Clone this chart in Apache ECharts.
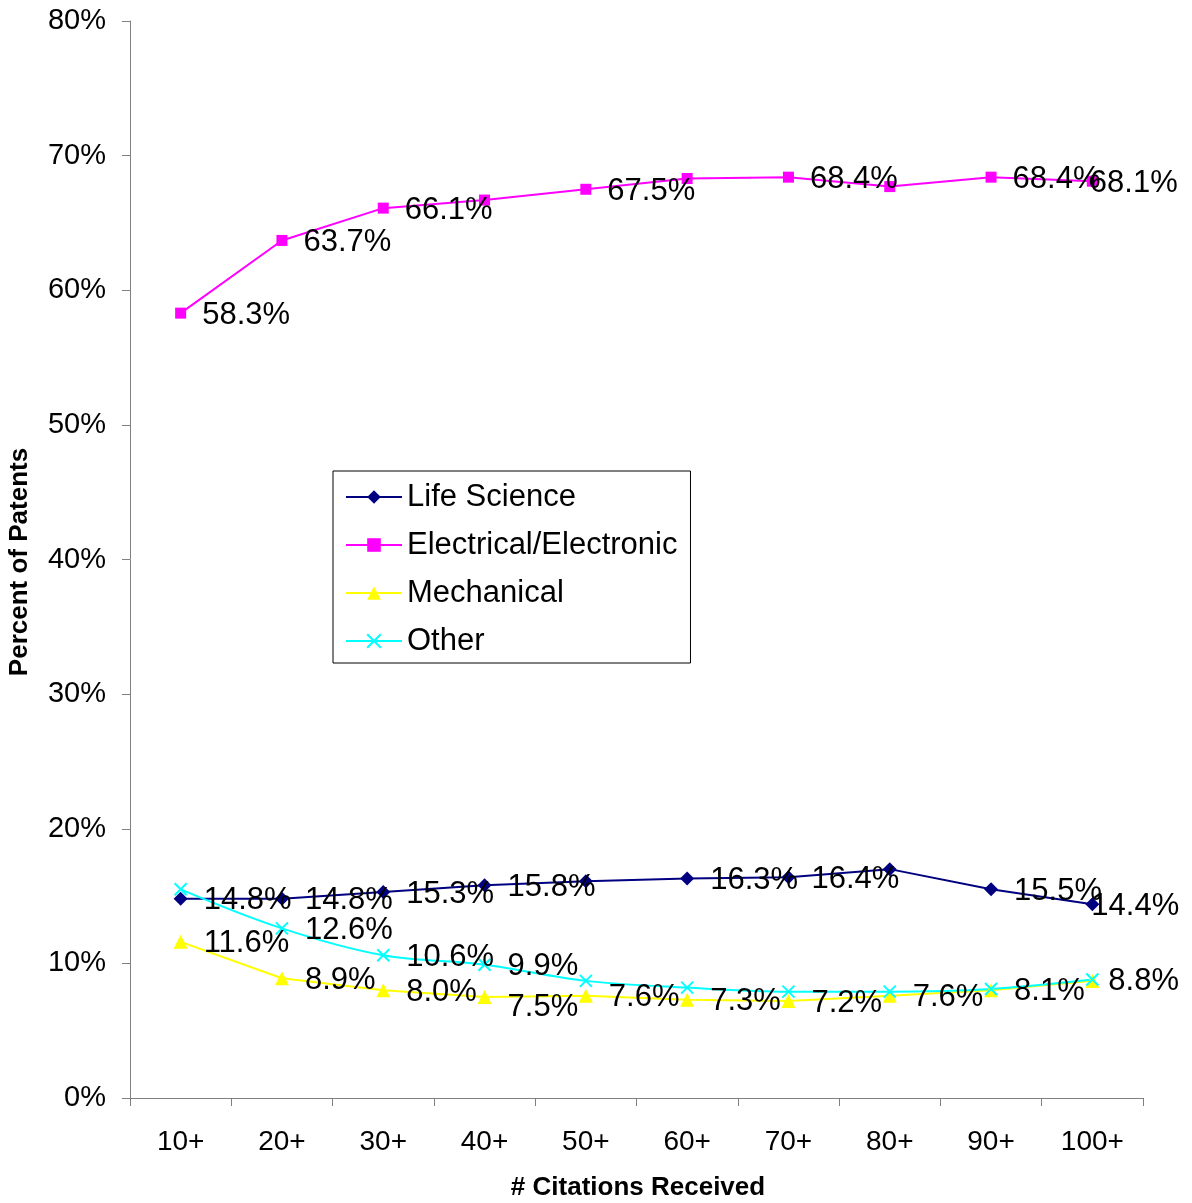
<!DOCTYPE html>
<html>
<head>
<meta charset="utf-8">
<title>Percent of Patents by Citations Received</title>
<script src="https://cdn.jsdelivr.net/npm/echarts@6/dist/echarts.min.js"></script>
<style>
  html, body { margin: 0; padding: 0; background: #ffffff; }
  #chart { width: 1192px; height: 1203px; }
</style>
</head>
<body>
<div id="chart"></div>
<script>
// Citation thresholds on the x axis
const categories = ['10+', '20+', '30+', '40+', '50+', '60+', '70+', '80+', '90+', '100+'];

// Share of patents (%) per technology field
const lifeScience = [14.8, 14.8, 15.3, 15.8, 16.1, 16.3, 16.4, 17.0, 15.5, 14.4];
const electrical  = [58.3, 63.7, 66.1, 66.7, 67.5, 68.3, 68.4, 67.7, 68.4, 68.1];
const mechanical  = [11.6, 8.9, 8.0, 7.5, 7.6, 7.3, 7.2, 7.6, 8.0, 8.7];
const other       = [15.5, 12.6, 10.6, 9.9, 8.7, 8.2, 7.9, 7.9, 8.1, 8.8];

// Which points carry a value label
const lifeScienceLabeled = [1, 1, 1, 1, 0, 1, 1, 0, 1, 1];
const electricalLabeled  = [1, 1, 1, 0, 1, 0, 1, 0, 1, 1];
const mechanicalLabeled  = [1, 1, 1, 1, 1, 1, 1, 1, 0, 0];
const otherLabeled       = [0, 1, 1, 1, 0, 0, 0, 0, 1, 1];

// Y axis range and step (percent)
const yMin = 0, yMax = 80, yStep = 10;

const FONT = "'Liberation Sans', Arial, sans-serif";

// Label nudges (px) so edge labels stay inside the canvas / clear of lines
const labelNudge = {
  'Life Science':          { 9: [-24, 2] },
  'Electrical/Electronic': { 9: [-24, 2] },
  'Mechanical':            { 3: [0, 10] },
  'Other':                 { 9: [-7, 2] }
};

function withLabels(name, values, flags) {
  const nudges = labelNudge[name] || {};
  return values.map((v, i) => {
    const lab = { show: !!flags[i] };
    if (nudges[i]) lab.offset = nudges[i];
    return { value: v, label: lab };
  });
}

const labelStyle = {
  show: true,
  position: 'right',
  distance: 16,
  offset: [0, 2],
  color: '#000000',
  fontSize: 31,
  fontFamily: FONT,
  formatter: p => p.value.toFixed(1) + '%'
};

const crossPath = 'path://M0,0 L10,10 M10,0 L0,10';

const chart = echarts.init(document.getElementById('chart'), null, { renderer: 'canvas' });

chart.setOption({
  animation: false,
  backgroundColor: '#ffffff',
  textStyle: { fontFamily: FONT },
  grid: { left: 130, right: 49, top: 21, bottom: 105, containLabel: false },
  legend: {
    orient: 'vertical',
    left: 333,
    top: 471,
    padding: [9, 13, 5, 12],
    itemGap: 14,
    itemWidth: 56,
    itemHeight: 17,
    backgroundColor: '#ffffff',
    borderColor: '#000000',
    borderWidth: 1,
    borderRadius: 0,
    textStyle: { fontSize: 31, color: '#000000', fontFamily: FONT, lineHeight: 34 },
    data: ['Life Science', 'Electrical/Electronic', 'Mechanical', 'Other']
  },
  xAxis: {
    type: 'category',
    data: categories,
    boundaryGap: true,
    axisLine: { lineStyle: { color: '#808080', width: 1 } },
    axisTick: { show: true, alignWithLabel: false, length: 8, lineStyle: { color: '#808080' } },
    axisLabel: { color: '#000000', fontSize: 28, fontFamily: FONT, margin: 30 },
    splitLine: { show: false }
  },
  yAxis: {
    type: 'value',
    min: yMin,
    max: yMax,
    interval: yStep,
    axisLine: { show: true, lineStyle: { color: '#808080', width: 1 } },
    axisTick: { show: true, length: 8, lineStyle: { color: '#808080' } },
    axisLabel: { color: '#000000', fontSize: 29, fontFamily: FONT, margin: 24, formatter: '{value}%' },
    splitLine: { show: false }
  },
  graphic: [
    {
      type: 'text',
      x: 20, y: 562,
      rotation: Math.PI / 2,
      style: {
        text: 'Percent of Patents',
        fontSize: 26, fontWeight: 'bold', fontFamily: FONT,
        fill: '#000000', align: 'center', verticalAlign: 'middle'
      }
    },
    {
      type: 'text',
      x: 638, y: 1188,
      style: {
        text: '# Citations Received',
        fontSize: 26, fontWeight: 'bold', fontFamily: FONT,
        fill: '#000000', align: 'center', verticalAlign: 'middle'
      }
    }
  ],
  series: [
    {
      name: 'Life Science',
      type: 'line',
      data: withLabels('Life Science', lifeScience, lifeScienceLabeled),
      symbol: 'diamond',
      symbolSize: 14,
      lineStyle: { color: '#000080', width: 2 },
      itemStyle: { color: '#000080' },
      label: labelStyle
    },
    {
      name: 'Electrical/Electronic',
      type: 'line',
      data: withLabels('Electrical/Electronic', electrical, electricalLabeled),
      symbol: 'rect',
      symbolSize: 11,
      lineStyle: { color: '#FF00FF', width: 2 },
      itemStyle: { color: '#FF00FF' },
      label: labelStyle
    },
    {
      name: 'Mechanical',
      type: 'line',
      data: withLabels('Mechanical', mechanical, mechanicalLabeled),
      symbol: 'triangle',
      symbolSize: 14,
      lineStyle: { color: '#FFFF00', width: 2 },
      itemStyle: { color: '#FFFF00' },
      label: labelStyle
    },
    {
      name: 'Other',
      type: 'line',
      data: withLabels('Other', other, otherLabeled),
      smooth: 0.35,
      symbol: crossPath,
      symbolSize: 12,
      lineStyle: { color: '#00FFFF', width: 2 },
      itemStyle: { color: '#00FFFF', borderColor: '#00FFFF', borderWidth: 2 },
      label: labelStyle
    }
  ]
});
</script>
</body>
</html>
